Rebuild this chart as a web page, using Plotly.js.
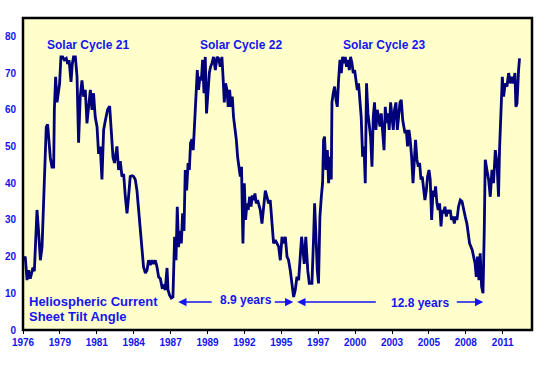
<!DOCTYPE html>
<html>
<head>
<meta charset="utf-8">
<script src="https://cdn.plot.ly/plotly-3.0.1.min.js"></script>
<style>
  html, body { margin: 0; padding: 0; background: #ffffff; }
  #chart { width: 552px; height: 369px; }
</style>
</head>
<body>
<div id="chart"></div>
<script>
// Heliospheric current sheet tilt angle (degrees)
const years = [
  1976.32, 1976.46, 1976.59, 1976.70, 1976.82, 1977.01, 1977.11, 1977.18, 1977.30, 1977.41,
  1977.54, 1977.66, 1977.77, 1977.89, 1977.96, 1978.06, 1978.16, 1978.25, 1978.37, 1978.49,
  1978.54, 1978.63, 1978.73, 1978.82, 1978.91, 1979.01, 1979.13, 1979.25, 1979.39, 1979.49,
  1979.59, 1979.73, 1979.82, 1979.91, 1980.04, 1980.16, 1980.27, 1980.39, 1980.51, 1980.63,
  1980.75, 1980.87, 1980.99, 1981.11, 1981.23, 1981.34, 1981.46, 1981.59, 1981.70, 1981.82,
  1981.94, 1982.06, 1982.18, 1982.34, 1982.49, 1982.59, 1982.73, 1982.84, 1982.89, 1983.01,
  1983.13, 1983.25, 1983.37, 1983.49, 1983.61, 1983.73, 1983.84, 1983.96, 1984.09, 1984.20,
  1984.32, 1984.44, 1984.56, 1984.68, 1984.80, 1984.91, 1985.04, 1985.16, 1985.27, 1985.39,
  1985.51, 1985.63, 1985.75, 1985.87, 1985.99, 1986.11, 1986.23, 1986.34, 1986.46, 1986.59,
  1986.66, 1986.77, 1986.89, 1987.01, 1987.13, 1987.23, 1987.32, 1987.41, 1987.51, 1987.61,
  1987.70, 1987.80, 1987.89, 1987.99, 1988.09, 1988.18, 1988.27, 1988.37, 1988.46, 1988.56,
  1988.66, 1988.75, 1988.84, 1988.94, 1989.04, 1989.13, 1989.23, 1989.32, 1989.41, 1989.51,
  1989.61, 1989.70, 1989.80, 1989.91, 1990.04, 1990.16, 1990.27, 1990.39, 1990.51, 1990.59,
  1990.68, 1990.77, 1990.87, 1990.96, 1991.06, 1991.16, 1991.25, 1991.34, 1991.44, 1991.54,
  1991.63, 1991.73, 1991.82, 1991.91, 1992.01, 1992.11, 1992.20, 1992.30, 1992.39, 1992.49,
  1992.59, 1992.68, 1992.77, 1992.87, 1992.96, 1993.06, 1993.16, 1993.25, 1993.37, 1993.49,
  1993.61, 1993.73, 1993.84, 1993.96, 1994.09, 1994.20, 1994.32, 1994.44, 1994.56, 1994.68,
  1994.80, 1994.91, 1995.04, 1995.16, 1995.27, 1995.39, 1995.51, 1995.63, 1995.75, 1995.87,
  1995.99, 1996.11, 1996.20, 1996.30, 1996.39, 1996.50, 1996.64, 1996.75, 1996.94, 1997.06,
  1997.13, 1997.23, 1997.32, 1997.41, 1997.51, 1997.61, 1997.70, 1997.77, 1997.84, 1997.94,
  1998.04, 1998.13, 1998.23, 1998.32, 1998.37, 1998.46, 1998.56, 1998.66, 1998.75, 1998.84,
  1998.94, 1999.04, 1999.13, 1999.23, 1999.32, 1999.41, 1999.51, 1999.61, 1999.70, 1999.80,
  1999.89, 1999.99, 2000.09, 2000.18, 2000.27, 2000.37, 2000.46, 2000.56, 2000.66, 2000.75,
  2000.84, 2000.94, 2001.04, 2001.13, 2001.23, 2001.32, 2001.41, 2001.51, 2001.61, 2001.70,
  2001.80, 2001.89, 2001.99, 2002.09, 2002.18, 2002.27, 2002.37, 2002.46, 2002.56, 2002.66,
  2002.75, 2002.84, 2002.94, 2003.04, 2003.13, 2003.23, 2003.32, 2003.43, 2003.59, 2003.68,
  2003.77, 2003.87, 2003.96, 2004.06, 2004.16, 2004.25, 2004.34, 2004.44, 2004.54, 2004.63,
  2004.73, 2004.82, 2004.91, 2005.01, 2005.11, 2005.20, 2005.30, 2005.39, 2005.49, 2005.59,
  2005.68, 2005.77, 2005.87, 2005.96, 2006.06, 2006.16, 2006.25, 2006.34, 2006.44, 2006.54,
  2006.63, 2006.73, 2006.82, 2006.91, 2007.01, 2007.11, 2007.20, 2007.30, 2007.41, 2007.54,
  2007.66, 2007.77, 2007.89, 2008.01, 2008.11, 2008.20, 2008.30, 2008.39, 2008.49, 2008.59,
  2008.68, 2008.77, 2008.87, 2008.96, 2009.06, 2009.16, 2009.25, 2009.32, 2009.44, 2009.56,
  2009.68, 2009.80, 2009.91, 2010.04, 2010.16, 2010.27, 2010.34, 2010.44, 2010.54, 2010.63,
  2010.75, 2010.87, 2010.99, 2011.11, 2011.23, 2011.34, 2011.44, 2011.51, 2011.59, 2011.70,
  2011.77
];
const tilt = [
  19.0, 20.0, 13.6, 16.3, 14.0, 17.0, 16.0, 21.8, 32.7, 27.0,
  19.0, 22.6, 36.0, 45.5, 55.3, 56.0, 51.0, 47.0, 44.4, 44.4,
  60.0, 69.0, 62.0, 65.4, 67.0, 74.4, 74.4, 73.6, 74.0, 72.5,
  73.5, 67.6, 72.5, 74.4, 74.4, 69.0, 51.0, 63.6, 68.0, 63.6,
  65.4, 56.3, 62.0, 65.4, 60.0, 64.5, 58.0, 55.3, 48.0, 50.0,
  41.0, 54.5, 57.0, 60.0, 61.0, 54.5, 47.0, 45.5, 47.0, 50.0,
  43.6, 46.0, 41.8, 42.5, 36.3, 31.8, 36.3, 41.8, 42.0, 41.8,
  41.0, 38.0, 32.7, 27.0, 21.8, 17.2, 15.5, 16.3, 19.0, 17.7,
  19.0, 18.0, 19.0, 17.2, 14.4, 14.0, 11.7, 12.0, 10.9, 16.9,
  10.9, 9.5, 8.7, 9.0, 25.4, 19.0, 33.6, 22.6, 27.0, 23.6,
  31.8, 27.0, 43.6, 38.0, 45.5, 43.6, 51.0, 52.0, 49.0, 56.3,
  63.6, 70.8, 65.4, 69.0, 68.0, 73.6, 64.5, 74.4, 59.0, 66.3,
  70.0, 71.7, 72.7, 74.4, 70.8, 74.4, 74.0, 71.7, 74.4, 69.0,
  62.0, 67.2, 65.4, 60.8, 65.4, 60.8, 63.6, 58.0, 55.4, 51.8,
  47.2, 43.6, 41.8, 44.5, 23.6, 40.0, 30.0, 34.5, 32.7, 36.3,
  33.6, 36.7, 35.4, 37.2, 34.5, 35.4, 33.6, 32.7, 29.0, 32.7,
  38.0, 36.3, 34.5, 35.4, 29.0, 23.6, 24.5, 23.6, 22.7, 19.0,
  25.4, 23.6, 25.4, 20.0, 19.0, 16.3, 12.7, 9.0, 10.9, 14.5,
  13.6, 20.0, 25.4, 21.8, 18.0, 25.4, 16.3, 12.7, 12.7, 25.4,
  34.5, 25.4, 16.3, 12.7, 30.9, 36.3, 40.0, 51.8, 52.7, 43.6,
  49.0, 40.0, 47.2, 41.0, 62.0, 64.5, 66.3, 62.7, 60.8, 68.0,
  73.6, 70.0, 74.4, 72.7, 74.4, 71.7, 73.6, 70.8, 74.4, 72.7,
  70.0, 70.8, 68.0, 65.4, 67.2, 60.8, 58.0, 47.2, 50.0, 40.0,
  67.2, 59.0, 54.5, 52.7, 44.5, 58.0, 62.0, 54.5, 60.0, 58.0,
  55.4, 59.0, 54.5, 49.0, 60.8, 56.4, 59.0, 54.5, 62.0, 58.0,
  54.5, 60.0, 62.0, 54.5, 58.0, 62.0, 62.7, 57.0, 53.6, 54.5,
  50.0, 54.5, 51.8, 47.2, 40.0, 45.5, 51.8, 46.4, 44.5, 45.5,
  41.0, 41.8, 39.1, 35.4, 38.0, 41.8, 43.6, 41.0, 30.0, 38.0,
  36.3, 39.1, 34.5, 32.7, 34.5, 28.2, 32.7, 31.8, 33.6, 30.9,
  32.7, 31.8, 32.7, 30.0, 30.9, 29.0, 30.9, 30.0, 33.6, 35.4,
  35.0, 32.7, 30.9, 29.0, 25.4, 23.6, 22.7, 21.8, 20.0, 18.2,
  14.5, 20.0, 13.6, 20.9, 11.8, 10.0, 27.0, 46.4, 43.6, 41.0,
  36.3, 43.6, 40.0, 49.0, 45.5, 36.3, 49.0, 58.0, 69.0, 63.6,
  67.2, 66.3, 70.0, 67.2, 69.0, 67.2, 70.0, 60.8, 61.8, 70.8,
  74.0
];
const xTickLabels = ['1976','1979','1981','1984','1987','1989','1992','1995','1997','2000','2003','2005','2008','2011'];
const yTickValues = [0, 10, 20, 30, 40, 50, 60, 70, 80];
const cycleLabels = ['Solar Cycle 21', 'Solar Cycle 22', 'Solar Cycle 23'];
const cycleLabelYears = [1980.93, 1991.89, 2002.11];
const periodLabels = ['8.9 years', '12.8 years'];

const BLUE = '#1414f0';
const FONT = 'Liberation Sans, Arial, sans-serif';

// axis geometry (layout)
const xStart = 1976.3, tickStep = 2.636;
const xTickVals = xTickLabels.map((_, i) => xStart + i * tickStep);

const trace = {
  x: years, y: tilt, type: 'scatter', mode: 'lines',
  line: { color: '#00007a', width: 2.8 },
  hoverinfo: 'skip'
};

const annotations = [];
cycleLabels.forEach((t, i) => annotations.push({
  x: cycleLabelYears[i], y: 77.7, xref: 'x', yref: 'y', text: '<b>' + t + '</b>',
  showarrow: false, font: { family: FONT, size: 12, color: BLUE }, xanchor: 'center', yanchor: 'middle'
}));
annotations.push({ x: 1976.6, y: 7.9, xref: 'x', yref: 'y', text: '<b>Heliospheric Current</b>',
  showarrow: false, font: { family: FONT, size: 13, color: BLUE }, xanchor: 'left', yanchor: 'middle' });
annotations.push({ x: 1976.6, y: 3.7, xref: 'x', yref: 'y', text: '<b>Sheet Tilt Angle</b>',
  showarrow: false, font: { family: FONT, size: 13, color: BLUE }, xanchor: 'left', yanchor: 'middle' });
annotations.push({ x: 1992.25, y: 8.2, xref: 'x', yref: 'y', text: '<b>' + periodLabels[0] + '</b>',
  showarrow: false, font: { family: FONT, size: 12, color: BLUE }, xanchor: 'center', yanchor: 'middle' });
annotations.push({ x: 2004.68, y: 7.4, xref: 'x', yref: 'y', text: '<b>' + periodLabels[1] + '</b>',
  showarrow: false, font: { family: FONT, size: 12, color: BLUE }, xanchor: 'center', yanchor: 'middle' });
// arrows: [head x, tail x, y]
const arrows = [[1987.39, 1989.89, 7.6], [1995.61, 1994.18, 7.6], [1995.89, 2001.61, 7.6], [2009.18, 2007.18, 7.6]];
arrows.forEach(a => annotations.push({
  x: a[0], y: a[2], ax: a[1], ay: a[2], xref: 'x', yref: 'y', axref: 'x', ayref: 'y',
  text: '', showarrow: true, arrowhead: 2, arrowsize: 1.1, arrowwidth: 1.5, arrowcolor: BLUE, standoff: 0
}));

const layout = {
  width: 552, height: 369,
  margin: { l: 23, r: 20, t: 18, b: 39, pad: 0 },
  paper_bgcolor: '#ffffff',
  plot_bgcolor: '#ffffcc',
  showlegend: false,
  xaxis: {
    range: [xStart, 2012.66], tickmode: 'array', tickvals: xTickVals, ticktext: xTickLabels,
    showgrid: false, zeroline: false, showline: false,
    ticks: 'outside', ticklen: 3, tickcolor: '#000', tickwidth: 1,
    tickfont: { family: FONT, size: 10, color: BLUE, weight: 'bold' }
  },
  yaxis: {
    range: [0, 85], tickmode: 'array', tickvals: yTickValues,
    showgrid: false, zeroline: false, showline: false, ticks: '',
    ticklabelstandoff: 6,
    tickfont: { family: FONT, size: 10, color: BLUE, weight: 'bold' }
  },
  shapes: [{
    type: 'rect', xref: 'paper', yref: 'paper', x0: 0, x1: 1, y0: 0, y1: 1,
    line: { color: '#000', width: 2.5 }, fillcolor: 'rgba(0,0,0,0)', layer: 'above'
  }],
  annotations: annotations
};

Plotly.newPlot('chart', [trace], layout, { staticPlot: true, displayModeBar: false });
</script>
</body>
</html>
